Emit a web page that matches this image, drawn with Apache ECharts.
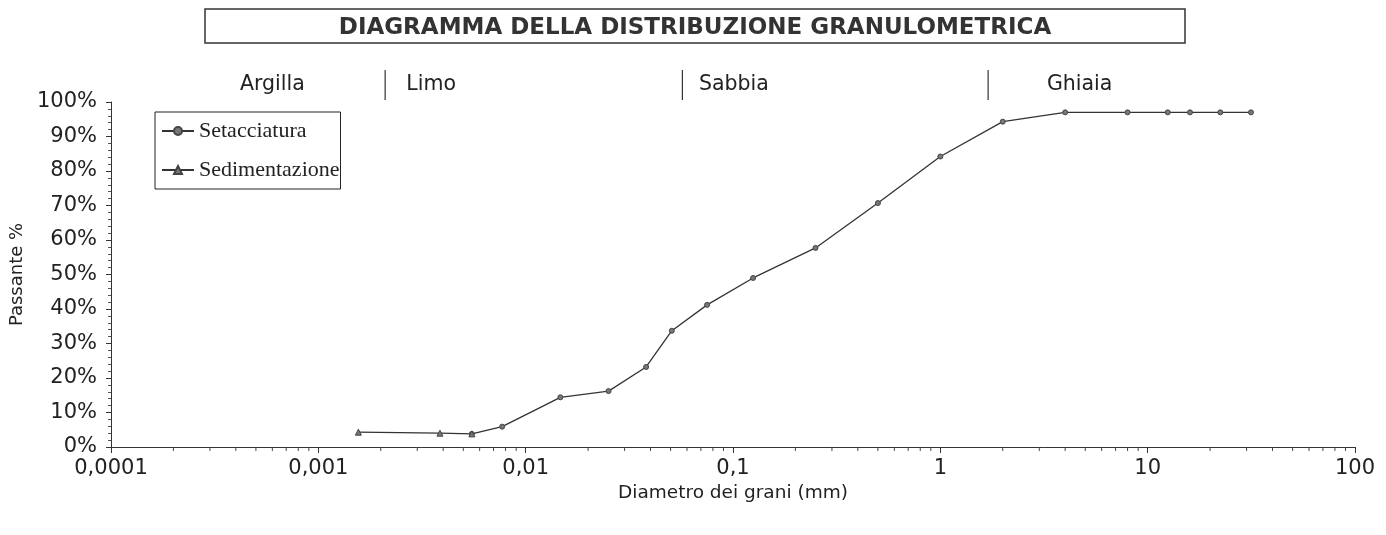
<!DOCTYPE html>
<html>
<head>
    <meta charset="utf-8">
    <script src="https://cdn.jsdelivr.net/npm/echarts@6/dist/echarts.min.js"></script>
</head>
<body style="margin:0;background-color:#ffffff">
    <div id="main" style="width:1386px;height:535px;"></div>
    <script type="text/javascript">

        // diametri (mm) e passante (%)
        var sedDiam = [0.00156, 0.00386, 0.0055];
        var sedPass = [4.3, 4.0, 3.8];
        var setDiam = [0.0055, 0.0077, 0.0147, 0.0251, 0.0381, 0.0507, 0.075, 0.125, 0.25, 0.5, 1, 2, 4, 8, 12.5, 16, 22.4, 31.5];
        var setPass = [3.8, 5.9, 14.4, 16.2, 23.2, 33.7, 41.2, 49.0, 57.7, 70.7, 84.2, 94.3, 97.0, 97.0, 97.0, 97.0, 97.0, 97.0];

        var xTickLabels = ['0,0001', '0,001', '0,01', '0,1', '1', '10', '100'];

        // fasce granulometriche
        var zoneNames = ['Argilla', 'Limo', 'Sabbia', 'Ghiaia'];
        var zoneLabelAt = [0.0006, 0.0035, 0.101, 4.7];
        var zoneLimits = [0.0021, 0.057, 1.7];

        var minorTicks = [];
        for (var k = -4; k < 2; k++) {
            for (var m = 2; m <= 9; m++) minorTicks.push([m * Math.pow(10, k), 0]);
        }

        function pairs(xs, ys) {
            var out = [];
            for (var i = 0; i < xs.length; i++) out.push([xs[i], ys[i]]);
            return out;
        }

        var myChart = echarts.init(document.getElementById("main"));
        var sans = 'DejaVu Sans';

        var option = {
            animation: false,
            backgroundColor: '#ffffff',
            grid: {left: 111, right: 31, top: 102, bottom: 88},
            legend: {
                data: ['Setacciatura', 'Sedimentazione'],
                orient: 'vertical',
                left: 155, top: 112,
                backgroundColor: '#ffffff',
                borderColor: '#222',
                borderWidth: 1,
                padding: [8, 1, 8, 6],
                itemWidth: 32, itemHeight: 10, itemGap: 17,
                textStyle: {fontFamily: 'Liberation Serif', fontSize: 22, color: '#222'}
            },
            xAxis: {
                type: 'log', logBase: 10, min: 0.0001, max: 100,
                name: 'Diametro dei grani (mm)', nameLocation: 'middle', nameGap: 37,
                nameTextStyle: {fontFamily: sans, fontSize: 18.5, color: '#222'},
                axisLine: {lineStyle: {color: '#333', width: 1}},
                axisTick: {length: 6, lineStyle: {color: '#333'}},
                splitLine: {show: false},
                axisLabel: {
                    margin: 11, fontFamily: sans, fontSize: 21, color: '#222',
                    formatter: function (v) { return xTickLabels[Math.round(Math.log10(v)) + 4]; }
                }
            },
            yAxis: {
                type: 'value', min: 0, max: 100, interval: 10,
                name: 'Passante %', nameLocation: 'middle', nameGap: 84,
                nameTextStyle: {fontFamily: sans, fontSize: 18, color: '#222'},
                axisLine: {show: true, lineStyle: {color: '#333', width: 1}},
                axisTick: {show: true, length: 5, lineStyle: {color: '#333'}},
                minorTick: {show: true, splitNumber: 5, length: 3, lineStyle: {color: '#555'}},
                splitLine: {show: false},
                axisLabel: {margin: 14, fontFamily: sans, fontSize: 21, color: '#222', formatter: '{value}%'}
            },
            series: [
                {
                    name: 'Setacciatura', type: 'line', data: pairs(setDiam, setPass),
                    symbol: 'circle', symbolSize: 5,
                    lineStyle: {color: '#333', width: 1.3},
                    itemStyle: {color: '#777', borderColor: '#444', borderWidth: 1}
                },
                {
                    name: 'Sedimentazione', type: 'line', data: pairs(sedDiam, sedPass),
                    symbol: 'triangle', symbolSize: 6,
                    lineStyle: {color: '#333', width: 1.3},
                    itemStyle: {color: '#777', borderColor: '#444', borderWidth: 1}
                },
                {
                    type: 'custom', data: minorTicks, silent: true, clip: false,
                    renderItem: function (params, api) {
                        var p = api.coord([api.value(0), 0]);
                        return {type: 'line', shape: {x1: p[0], y1: p[1], x2: p[0], y2: p[1] + 4},
                            style: {stroke: '#444', lineWidth: 1}};
                    }
                }
            ]
        };
        myChart.setOption(option);

        // titolo e fasce sopra il grafico
        var graphics = [
            {type: 'rect', shape: {x: 205, y: 9, width: 980, height: 34},
                style: {fill: '#fff', stroke: '#333', lineWidth: 1.5}},
            {type: 'text', x: 695, y: 28,
                style: {text: 'DIAGRAMMA DELLA DISTRIBUZIONE GRANULOMETRICA', font: 'bold 23px DejaVu Sans',
                    fill: '#333', align: 'center', verticalAlign: 'middle'}}
        ];
        for (var i = 0; i < zoneNames.length; i++) {
            var px = myChart.convertToPixel({xAxisIndex: 0}, zoneLabelAt[i]);
            graphics.push({type: 'text', x: px, y: 85,
                style: {text: zoneNames[i], font: '20.5px DejaVu Sans', fill: '#222', align: 'center', verticalAlign: 'middle'}});
        }
        for (var j = 0; j < zoneLimits.length; j++) {
            var lx = myChart.convertToPixel({xAxisIndex: 0}, zoneLimits[j]);
            graphics.push({type: 'line', shape: {x1: lx, y1: 70, x2: lx, y2: 100},
                style: {stroke: '#333', lineWidth: 1.2}});
        }
        myChart.setOption({graphic: graphics});
    </script>
</body>
</html>
